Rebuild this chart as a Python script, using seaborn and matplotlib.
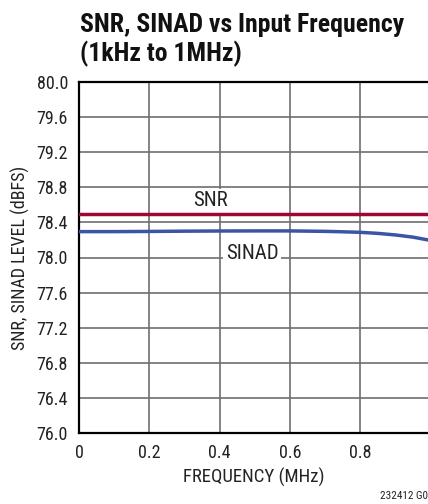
import matplotlib
matplotlib.use("Agg")
import matplotlib.pyplot as plt
import seaborn as sns
import pandas as pd

# Data
freq_mhz = [0.001, 0.1, 0.2, 0.3, 0.4, 0.5, 0.6, 0.7, 0.75, 0.8, 0.85, 0.9, 0.95, 1.0]
snr_db = [78.50, 78.50, 78.50, 78.50, 78.50, 78.50, 78.50, 78.50, 78.50, 78.50, 78.50, 78.50, 78.50, 78.50]
sinad_db = [78.295, 78.295, 78.297, 78.30, 78.302, 78.303, 78.303, 78.298, 78.293, 78.287, 78.275, 78.257, 78.232, 78.195]
x_ticks = [0, 0.2, 0.4, 0.6, 0.8, 1.0]
x_ticklabels = ["0", "0.2", "0.4", "0.6", "0.8", "1"]
y_ticks = [76.0, 76.4, 76.8, 77.2, 77.6, 78.0, 78.4, 78.8, 79.2, 79.6, 80.0]

df = pd.DataFrame({"freq": freq_mhz * 2,
                   "val": snr_db + sinad_db,
                   "series": ["SNR"] * len(freq_mhz) + ["SINAD"] * len(freq_mhz)})

sns.set_style("white")
FONT = ["Roboto Condensed", "DejaVu Sans"]
plt.rcParams["font.family"] = FONT

fig = plt.figure(figsize=(4.28, 5.04), dpi=100)
ax = fig.add_axes([79 / 428, 71 / 504, 351.5 / 428, 351 / 504])

sns.lineplot(data=df, x="freq", y="val", hue="series",
             palette={"SNR": "#9b0a32", "SINAD": "#3a55a4"},
             linewidth=2.5, legend=False, ax=ax, zorder=3)

ax.set_xlim(0, 1.0)
ax.set_ylim(76.0, 80.0)
ax.set_xticks(x_ticks)
ax.set_xticklabels(x_ticklabels)
ax.set_yticks(y_ticks)
ax.set_yticklabels([f"{v:.1f}" for v in y_ticks])
ax.grid(True, color="#6e6e6e", linewidth=1.2, zorder=1)
ax.set_axisbelow(True)
for s in ax.spines.values():
    s.set_color("black")
    s.set_linewidth(1.6)
ax.tick_params(axis="both", labelsize=13, colors="#222222", length=0)
ax.tick_params(axis="y", pad=8)
ax.tick_params(axis="x", pad=8)

ax.set_xlabel("FREQUENCY (MHz)", fontsize=13.5, color="#222222")
ax.set_ylabel("SNR, SINAD LEVEL (dBFS)", fontsize=13, color="#222222")
ax.xaxis.set_label_coords((254 - 79) / 351.5, -(477 - 433) / 351, transform=ax.transAxes)
ax.yaxis.set_label_coords(-(79 - 20) / 351.5, 0.5, transform=ax.transAxes)
ax.xaxis.label.set_va("center")
ax.yaxis.label.set_va("center")

bbox = dict(facecolor="white", edgecolor="none", pad=2)
ax.text(0.373, 78.647, "SNR", fontsize=15, color="#222222", ha="center", va="center",
        bbox=bbox, zorder=2)
ax.text(0.492, 78.05, "SINAD", fontsize=15, color="#222222", ha="center", va="center",
        bbox=bbox, zorder=2)

fig.text(80 / 428, 1 - 31.7 / 504, "SNR, SINAD vs Input Frequency",
         fontsize=18.5, fontweight="bold", color="#111111", ha="left", va="baseline")
fig.text(80 / 428, 1 - 61.7 / 504, "(1kHz to 1MHz)",
         fontsize=18.5, fontweight="bold", color="#111111", ha="left", va="baseline")
fig.text(380 / 428, 1 - 496 / 504, "232412 G05", fontsize=8, color="#222222",
         ha="left", va="center")

fig.savefig("out.png", dpi=100)
